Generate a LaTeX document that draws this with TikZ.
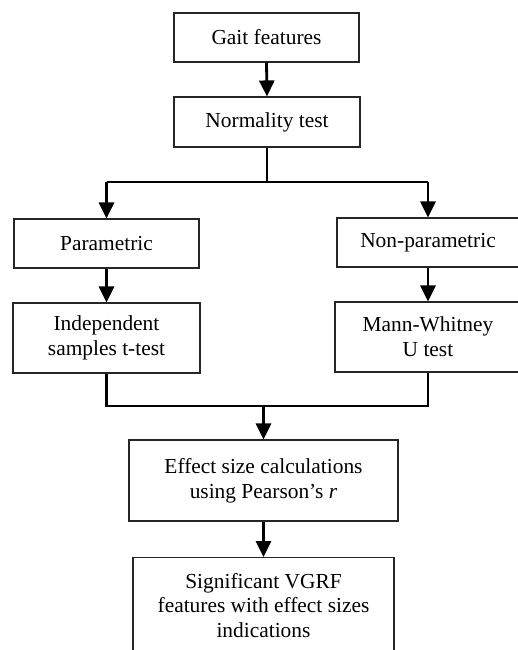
\documentclass[tikz,border=0pt]{standalone}
\usepackage{fontspec}
\setmainfont{Liberation Serif}
\usetikzlibrary{arrows.meta}
\begin{document}
\begin{tikzpicture}[x=1pt,y=1pt,
  box/.style={draw=black!85, line width=1.1pt, fill=white, align=center,
    inner sep=0pt, font=\fontsize{21.4}{24.8}\selectfont},
  conn/.style={line width=2.8pt, black},
  arr/.style={conn, -{Triangle[length=16pt,width=15pt]}}
]
\useasboundingbox (0,0) rectangle (518,-650);
\clip (0,0) rectangle (518,-650);
\fill[white] (0,0) rectangle (518,-650);

\node[box, minimum width=185pt, minimum height=49pt] (gait) at (266.5,-37.5) {Gait features};
\node[box, minimum width=186pt, minimum height=50pt] (norm) at (267,-122) {Normality test};
\node[box, minimum width=185pt, minimum height=49pt] (param) at (106.5,-243.5) {Parametric};
\node[box, minimum width=182pt, minimum height=49pt] (nonparam) at (428,-242.5) {Non-parametric};
\node[box, minimum width=187pt, minimum height=70pt] (indep) at (106.5,-338) {Independent\\samples t-test};
\node[box, minimum width=186pt, minimum height=70pt] (mann) at (428,-337) {Mann-Whitney\\U test};
\node[box, minimum width=269pt, minimum height=81pt] (effect) at (263.5,-480.5) {Effect size calculations\\using Pearson’s \textit{r}};
\node[box, minimum width=261pt, minimum height=96pt, anchor=north] (signif) at (263.5,-557) {Significant VGRF\\features with effect sizes\\indications};

\coordinate (split) at (267,-182);
\coordinate (merge) at (263.5,-406);

\draw[arr] (gait.south) -- (norm.north);
\draw[conn] (norm.south) -- (split);
\draw[conn] (split -| param.north) -- (split -| nonparam.north);
\draw[arr] (split -| param.north) -- (param.north);
\draw[arr] (split -| nonparam.north) -- (nonparam.north);
\draw[arr] (param.south) -- (indep.north);
\draw[arr] (nonparam.south) -- (mann.north);
\draw[conn] (indep.south) -- (indep.south |- merge) -- (mann.south |- merge) -- (mann.south);
\draw[arr] (merge) -- (effect.north);
\draw[arr] (effect.south) -- (signif.north);
\end{tikzpicture}
\end{document}
